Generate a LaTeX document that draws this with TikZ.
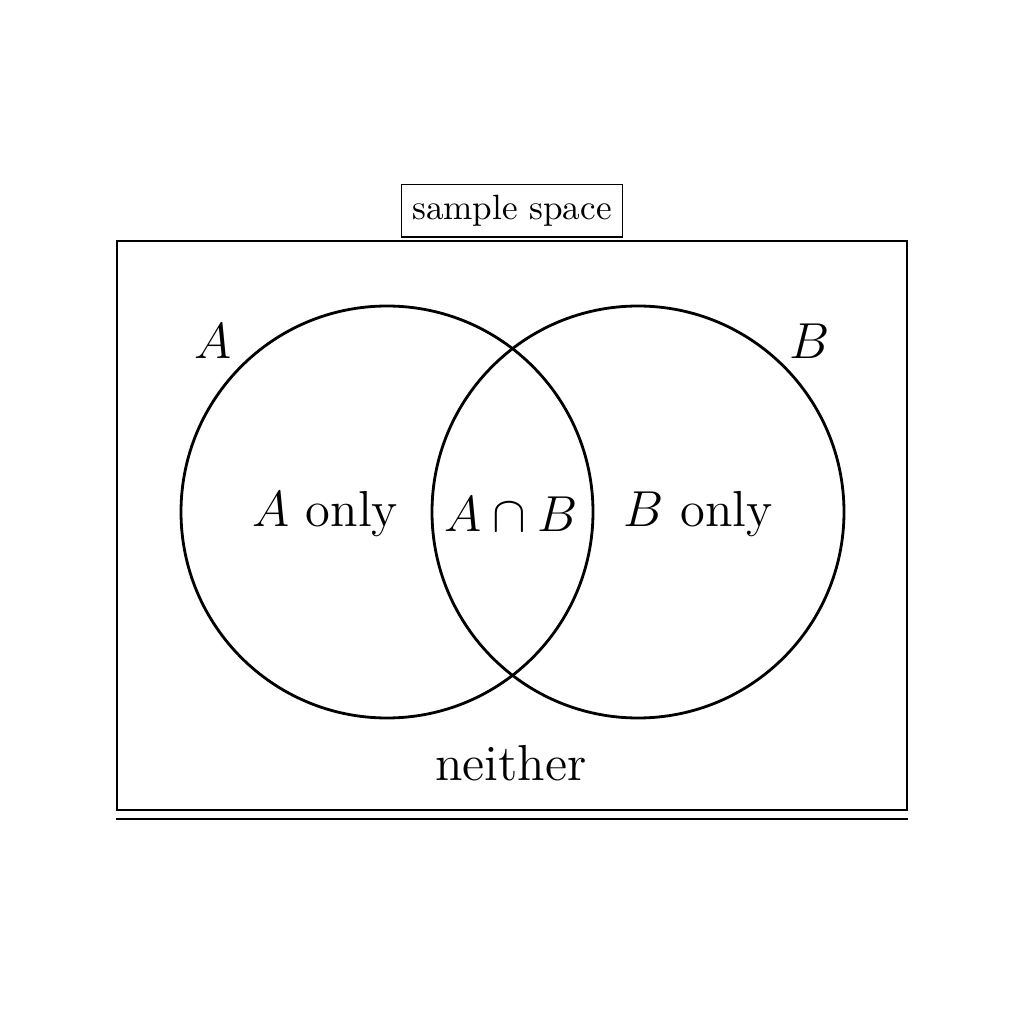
\documentclass[tikz,border=0pt]{standalone}
\usepackage{amsmath,amssymb}
\usepackage{tikz}
\usetikzlibrary{positioning}
\tikzset{
  setcircle/.style={draw, thick, circle, minimum size=4.12cm, inner sep=0pt},
  regionlabel/.style={font=\Large},
}

\begin{document}
\begin{tikzpicture}
  \useasboundingbox (0,0) rectangle (10.24,10.24);
  \node[draw, thick, minimum width=7.9cm, minimum height=5.69cm, inner sep=0pt]
    (space) at (5.12,4.985) {};
  \node[draw, line width=0.4pt, above=0.02cm of space, inner sep=3pt]
    (title) {sample space};
  \draw[semithick] ([yshift=-0.08cm]space.south west) coordinate (ul)
    -- ([yshift=-0.08cm]space.south east) coordinate (ur);

  \node[setcircle] (setA) at (3.87,5.12) {};
  \node[setcircle] (setB) at (6.38,5.12) {};

  \node[regionlabel] (nameA) at (2.13,6.83) {$A$};
  \node[regionlabel] (nameB) at (8.10,6.83) {$B$};

  \node[regionlabel] (onlyA) at (3.25,5.10) {$A$ only};
  \node[regionlabel] (both) at (5.11,5.10) {$A \cap B$};
  \node[regionlabel] (onlyB) at (6.98,5.10) {$B$ only};
  \node[regionlabel] (neither) at (5.11,2.61) {neither};
\end{tikzpicture}
\end{document}
